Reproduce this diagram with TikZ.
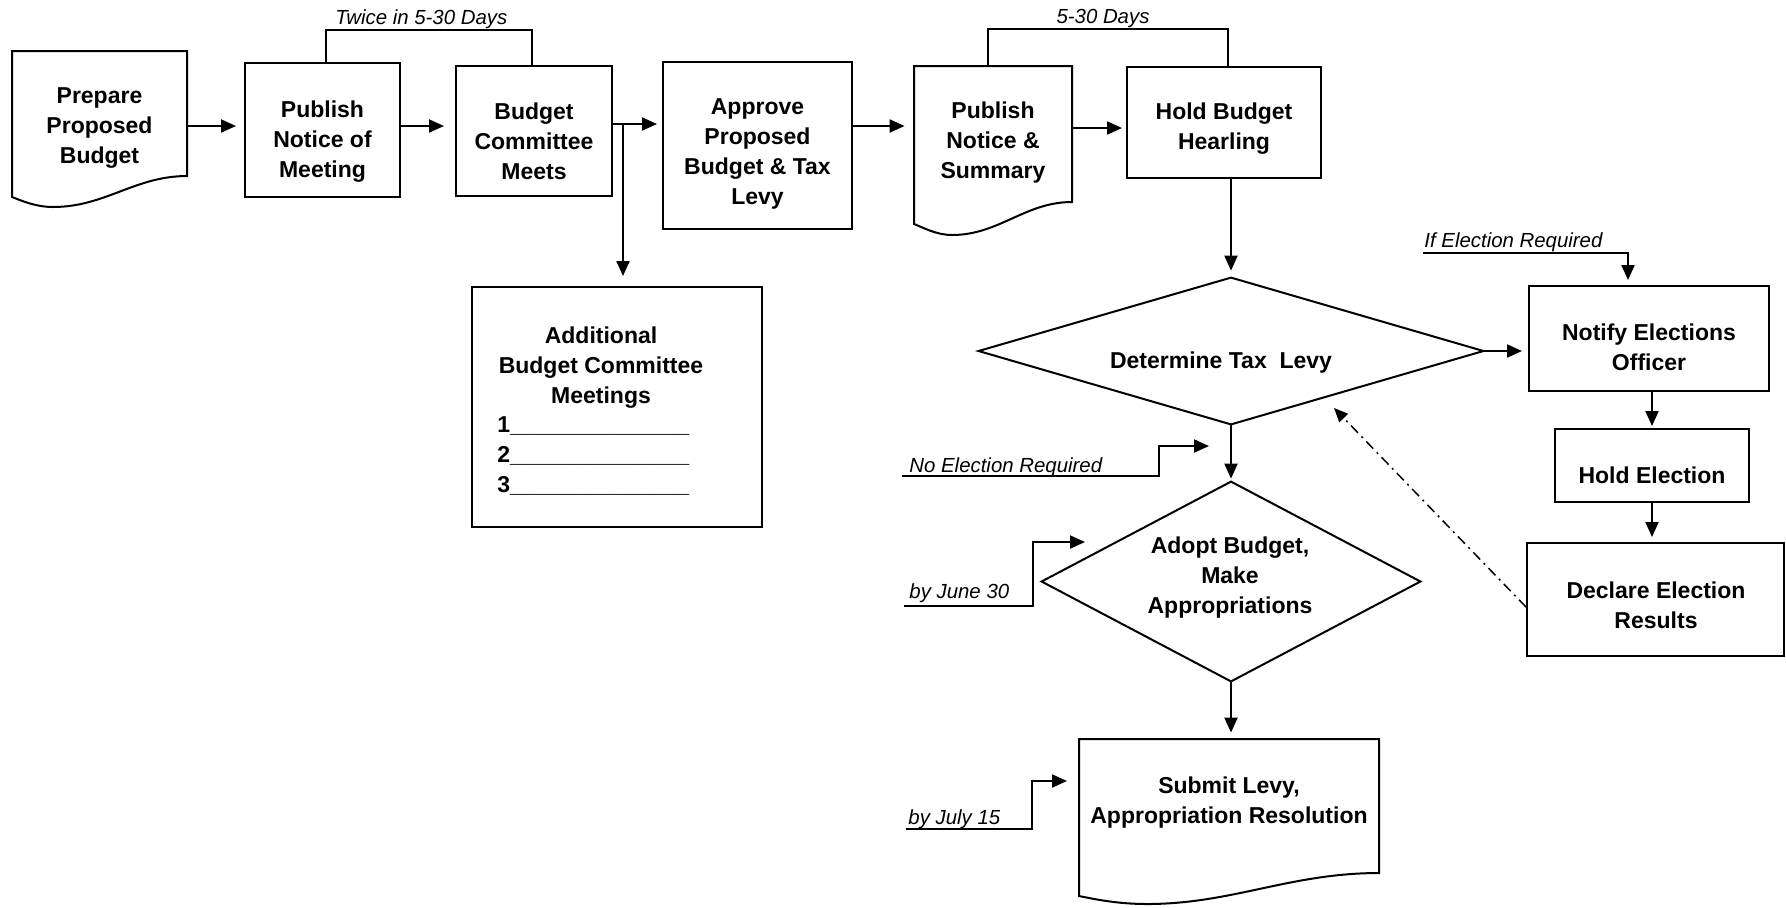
\documentclass[tikz,border=0pt]{standalone}
\usepackage{fontspec}
\setmainfont{Liberation Sans}
\usetikzlibrary{arrows.meta,fit,calc}
\begin{document}
\begin{tikzpicture}[x=0.5pt,y=-0.5pt,
  box/.style={draw, line width=1pt, inner sep=0pt},
  hid/.style={inner sep=0pt},
  shp/.style={line width=1pt, line join=miter},
  btxt/.style={font=\fontsize{11.5}{15}\selectfont\bfseries, align=center, inner sep=0pt},
  ltxt/.style={font=\fontsize{11.5}{15}\selectfont\bfseries, align=left, inner sep=0pt},
  itxt/.style={font=\fontsize{10.2}{12}\selectfont\itshape, inner sep=0pt},
  con/.style={line width=1pt},
  arr/.style={line width=1pt, -{Triangle[length=7.5pt,width=6.5pt]}},
  dd/.style={line width=0.75pt, dash pattern=on 5pt off 2.5pt on 1pt off 2.5pt, -{Triangle[length=7pt,width=6pt]}},
]
\useasboundingbox (0,0) rectangle (1786,907);

% ---- shapes ----
\node[hid, fit={(12,51) (187,176)}] (prep) {};
\draw[shp] (12,197) -- (12,51) -- (187,51) -- (187,176) .. controls (135,176) and (105,207) .. (53,207) .. controls (35,207) and (20,200) .. (12,197) -- cycle;

\node[box, fit={(245,63) (400,197)}] (pub) {};
\node[box, fit={(456,66) (612,196)}] (bud) {};
\node[box, fit={(663,62) (852,229)}] (appr) {};

\node[hid, fit={(914,66) (1072,202)}] (pub2) {};
\draw[shp] (914,224) -- (914,66) -- (1072,66) -- (1072,202) .. controls (1025,202) and (999,235) .. (952,235) .. controls (936,235) and (922,227) .. (914,224) -- cycle;

\node[box, fit={(1127,67) (1321,178)}] (hold) {};
\node[box, fit={(472,287) (762,527)}] (add) {};

\node[hid, fit={(979,278) (1483,424)}] (det) {};
\draw[shp] (det.north) -- (det.east) -- (det.south) -- (det.west) -- cycle;

\node[hid, fit={(1042,482) (1420,681)}] (ado) {};
\draw[shp] (ado.north) -- (ado.east) -- (ado.south) -- (ado.west) -- cycle;

\node[box, fit={(1529,286) (1769,391)}] (notify) {};
\node[box, fit={(1555,429) (1749,502)}] (hel) {};
\node[box, fit={(1527,543) (1784,656)}] (decl) {};

\node[hid, fit={(1079,739) (1379,873)}] (sub) {};
\draw[shp] (1079,896) -- (1079,739) -- (1379,739) -- (1379,873) .. controls (1290,873) and (1232,904) .. (1147,904) .. controls (1117,904) and (1094,899) .. (1079,896) -- cycle;

% ---- connectors ----
\draw[arr, shorten >=4pt] (prep.east |- 0,126) -- (pub.west |- 0,126);
\draw[arr, shorten >=5.5pt] (pub.east |- 0,126) -- (bud.west |- 0,126);
\draw[arr, shorten >=2.5pt] (bud.east |- 0,124) -- (appr.west |- 0,124);
\coordinate (br) at (623,124);
\draw[arr, shorten >=5pt] (br) -- (add.north -| br);
\draw[arr, shorten >=4.5pt] (appr.east |- 0,126) -- (pub2.west |- 0,126);
\draw[arr, shorten >=2pt] (pub2.east |- 0,128) -- (hold.west |- 0,128);
\draw[arr, shorten >=3.5pt] (hold.south -| det.north) -- (det.north);
\draw[arr, shorten >=3pt] (det.east) -- (notify.west |- det.east);
\draw[arr, shorten >=1pt] (notify.south -| hel.north) -- (hel.north);
\draw[arr, shorten >=2.5pt] (hel.south) -- (decl.north -| hel.south);
\draw[arr, shorten >=1.5pt] (det.south) -- (ado.north);
\draw[arr, shorten >=3pt] (ado.south) -- (sub.north -| ado.south);

\coordinate (dtip) at (1334,408);
\draw[dd] (decl.west |- 0,607) -- (dtip);

% brackets
\draw[con] (pub.north -| 326,0) -- (326,30) -- (532,30) -- (bud.north -| 532,0);
\draw[con] (pub2.north -| 988,0) -- (988,29) -- (1228,29) -- (hold.north -| 1228,0);

% label leaders
\coordinate (ifs) at (1423,253);
\draw[arr, shorten >=2.5pt] (ifs) -| (notify.north -| 1628,0);
\coordinate (nos) at (902,476);
\coordinate (noe) at (1209,446);
\draw[arr] (nos) -- (1159,476) |- (noe);
\coordinate (jus) at (904,606);
\coordinate (jue) at (1085,542);
\draw[arr] (jus) -- (1033,606) |- (jue);
\coordinate (jls) at (906,829);
\coordinate (jle) at (1067,781);
\draw[arr] (jls) -- (1032,829) |- (jle);

% ---- texts ----
\node[btxt, anchor=north] (prept) at (99.5,87.5) {Prepare\\Proposed\\Budget};
\node[btxt, anchor=north] (pubt) at (322.5,100.5) {Publish\\Notice of\\Meeting};
\node[btxt, anchor=north] (budt) at (534,102.5) {Budget\\Committee\\Meets};
\node[btxt, anchor=north] (apprt) at (757.5,98.5) {Approve\\Proposed\\Budget \& Tax\\Levy};
\node[btxt, anchor=north] (pub2t) at (993,101.5) {Publish\\Notice \&\\Summary};
\node[btxt, anchor=north] (holdt) at (1224,102.5) {Hold Budget\\Hearling};
\node[btxt, anchor=base] (dett) at (1221,368) {Determine Tax~~Levy};
\node[btxt, anchor=north] (notifyt) at (1649,323.5) {Notify Elections\\Officer};
\node[btxt, anchor=base] (helt) at (1652,483) {Hold Election};
\node[btxt, anchor=north] (declt) at (1656,581.5) {Declare Election\\Results};
\node[btxt, anchor=north] (adot) at (1230,536.5) {Adopt Budget,\\Make\\Appropriations};
\node[btxt, anchor=north] (subt) at (1229,776.5) {Submit Levy,\\Appropriation Resolution};
\node[btxt, anchor=north] (addt) at (601,326.5) {Additional\\Budget Committee\\Meetings};
\node[ltxt, anchor=north west] (addl) at (497,416.5) {1\_\_\_\_\_\_\_\_\_\_\_\_\_\_\\2\_\_\_\_\_\_\_\_\_\_\_\_\_\_\\3\_\_\_\_\_\_\_\_\_\_\_\_\_\_};

\node[itxt, anchor=base west] (lab1) at (335,24) {Twice in 5-30 Days};
\node[itxt, anchor=base] (lab2) at (1103,23) {5-30 Days};
\node[itxt, anchor=base west] (lab3) at (1424,247) {If Election Required};
\node[itxt, anchor=base west] (lab4) at (909,472) {No Election Required};
\node[itxt, anchor=base west] (lab5) at (909,598) {by June 30};
\node[itxt, anchor=base west] (lab6) at (908,824) {by July 15};
\end{tikzpicture}
\end{document}
